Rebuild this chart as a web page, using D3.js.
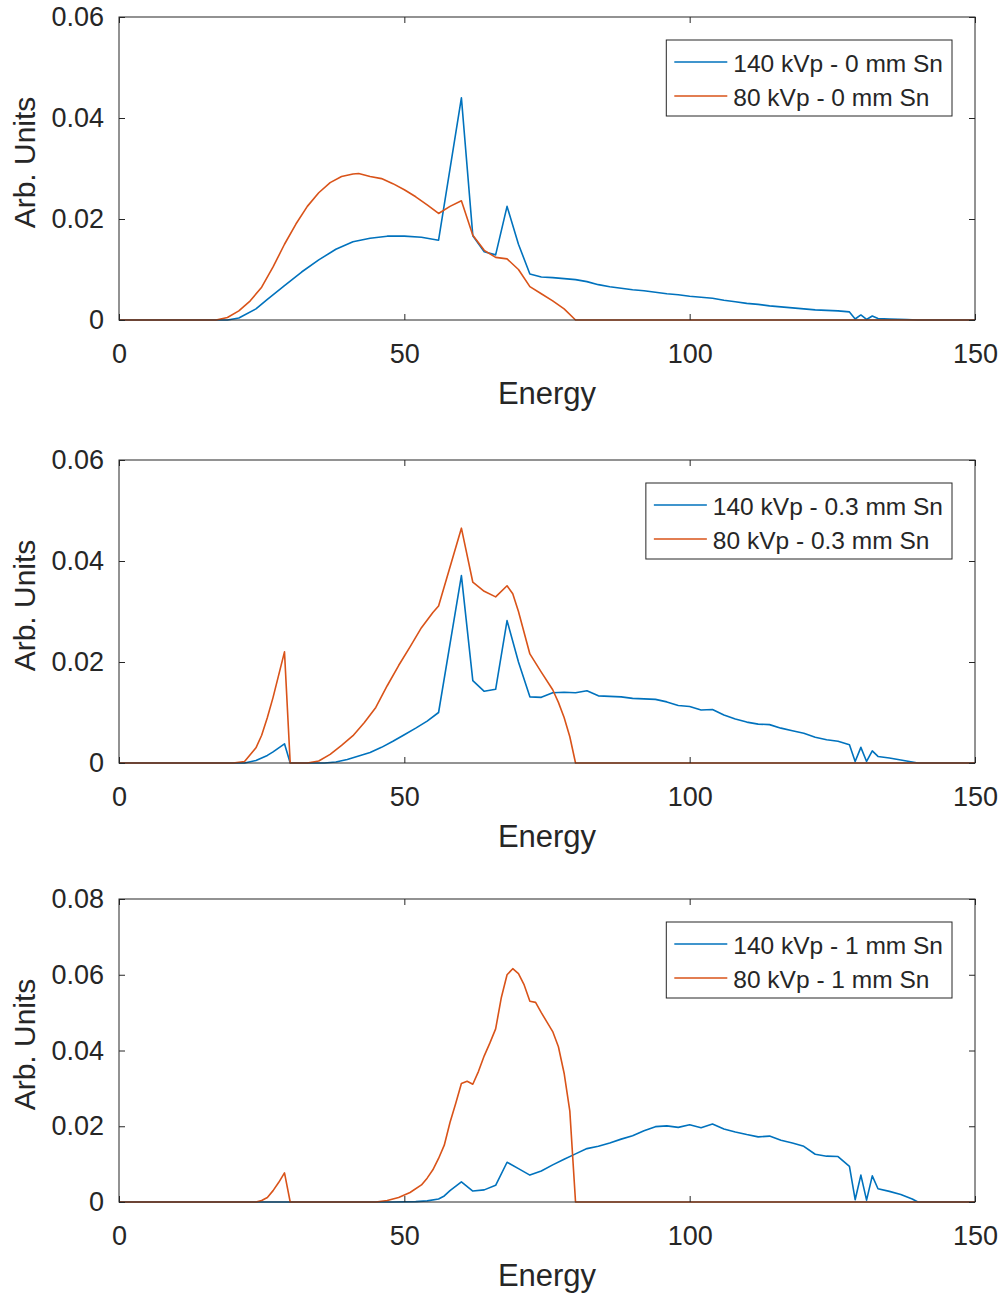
<!DOCTYPE html>
<html>
<head>
<meta charset="utf-8">
<script src="https://cdn.jsdelivr.net/npm/d3@7.9.0/dist/d3.min.js"></script>
<style>
  body { margin: 0; background: #fff; }
  text { font-family: "Liberation Sans", Arial, Helvetica, sans-serif; fill: #262626; }
</style>
</head>
<body>
<svg id="chart" width="1004" height="1295"></svg>
<script>
// energy / value pairs
const blue0 = [[0,0],[19,0],[21,0.0004],[24,0.0022],[26,0.0041],[29,0.0068],[32,0.0095],[35,0.0119],[38,0.0140],[41,0.0155],[44,0.0162],[47,0.0166],[50,0.0166],[53,0.0164],[56,0.0158],[60,0.0440],[62,0.0167],[64,0.0135],[66,0.0129],[68,0.0225],[70,0.0150],[72,0.0091],[74,0.0085],[76,0.0084],[78,0.0082],[80,0.0080],[82,0.0076],[84,0.0070],[86,0.0066],[88,0.0063],[90,0.0060],[92,0.0058],[94,0.0055],[96,0.0052],[98,0.0050],[100,0.0047],[102,0.0045],[104,0.0043],[106,0.0039],[108,0.0036],[110,0.0033],[112,0.0031],[114,0.0028],[116,0.0026],[118,0.0024],[120,0.0022],[122,0.0020],[124,0.0019],[126,0.0018],[128,0.0016],[129,0.0002],[130,0.0010],[131,0.0001],[132,0.0008],[133,0.0003],[135,0.0002],[138,0.0001],[140,0],[150,0]];
const orange0 = [[0,0],[17,0],[19,0.0005],[21,0.0018],[23,0.0038],[25,0.0065],[27,0.0105],[29,0.0150],[31,0.0190],[33,0.0225],[35,0.0252],[37,0.0272],[39,0.0284],[41,0.0289],[42,0.0290],[44,0.0284],[46,0.0280],[48,0.0270],[50,0.0258],[52,0.0244],[54,0.0228],[56,0.0211],[58,0.0225],[60,0.0236],[62,0.0168],[64,0.0138],[66,0.0124],[68,0.0121],[70,0.0100],[72,0.0066],[74,0.0052],[76,0.0038],[78,0.0022],[80,0],[150,0]];

const blue03 = [[0,0],[22,0],[24,0.0005],[26,0.0015],[27,0.0022],[29,0.0038],[30,0],[36,0],[38,0.0002],[40,0.0007],[42,0.0014],[44,0.0021],[46,0.0031],[48,0.0043],[50,0.0056],[52,0.0069],[54,0.0083],[56,0.0100],[60,0.0371],[62,0.0163],[64,0.0142],[66,0.0146],[68,0.0282],[70,0.0200],[72,0.0131],[74,0.0130],[76,0.0139],[78,0.0140],[80,0.0139],[82,0.0143],[84,0.0133],[86,0.0132],[88,0.0131],[90,0.0128],[92,0.0127],[94,0.0126],[96,0.0121],[98,0.0114],[100,0.0112],[102,0.0105],[104,0.0106],[106,0.0095],[108,0.0087],[110,0.0081],[112,0.0077],[114,0.0076],[116,0.0069],[118,0.0064],[120,0.0059],[122,0.0051],[124,0.0046],[126,0.0043],[128,0.0036],[129,0.0003],[130,0.0031],[131,0.0003],[132,0.0024],[133,0.0013],[135,0.0010],[137,0.0006],[139,0.0002],[140,0],[150,0]];
const orange03 = [[0,0],[20,0],[22,0.0003],[24,0.0030],[25,0.0055],[26,0.0090],[27,0.0130],[28,0.0175],[29,0.0220],[30,0],[33,0],[35,0.0004],[37,0.0017],[39,0.0035],[41,0.0054],[43,0.0080],[45,0.0110],[47,0.0153],[49,0.0193],[51,0.0230],[53,0.0268],[55,0.0298],[56,0.0311],[60,0.0465],[62,0.0358],[64,0.0340],[66,0.0329],[68,0.0351],[69,0.0335],[70,0.0300],[72,0.0216],[74,0.0180],[76,0.0145],[77,0.0120],[78,0.0090],[79,0.0052],[80,0],[150,0]];

const blue1 = [[0,0],[48,0],[52,0.0001],[54,0.0003],[56,0.0008],[57,0.0016],[58,0.0030],[60,0.0053],[62,0.0029],[64,0.0032],[66,0.0044],[68,0.0105],[70,0.0088],[72,0.0071],[74,0.0082],[76,0.0098],[78,0.0113],[80,0.0127],[82,0.0141],[84,0.0147],[86,0.0156],[88,0.0166],[90,0.0175],[92,0.0188],[94,0.0199],[96,0.0201],[98,0.0197],[100,0.0204],[102,0.0196],[104,0.0206],[106,0.0193],[108,0.0185],[110,0.0178],[112,0.0172],[114,0.0174],[116,0.0163],[118,0.0156],[120,0.0147],[122,0.0126],[124,0.0121],[126,0.0120],[128,0.0094],[129,0.0006],[130,0.0071],[131,0.0005],[132,0.0069],[133,0.0035],[135,0.0028],[137,0.0020],[139,0.0008],[140,0],[150,0]];
const orange1 = [[0,0],[24,0],[25,0.0004],[26,0.0012],[27,0.0030],[28,0.0052],[29,0.0077],[30,0],[45,0],[47,0.0004],[49,0.0012],[51,0.0025],[53,0.0045],[54,0.0063],[55,0.0085],[56,0.0115],[57,0.0150],[58,0.0210],[59,0.0260],[60,0.0313],[61,0.0319],[62,0.0311],[63,0.0345],[64,0.0386],[65,0.0420],[66,0.0457],[67,0.0540],[68,0.0600],[69,0.0616],[70,0.0603],[71,0.0573],[72,0.0530],[73,0.0527],[74,0.0500],[75,0.0475],[76,0.0450],[77,0.0410],[78,0.0340],[79,0.0240],[80,0],[150,0]];

const xTicks = [0, 50, 100, 150];
const legendNames = [
  ['140 kVp - 0 mm Sn', '80 kVp - 0 mm Sn'],
  ['140 kVp - 0.3 mm Sn', '80 kVp - 0.3 mm Sn'],
  ['140 kVp - 1 mm Sn', '80 kVp - 1 mm Sn']
];
const yMaxes = [0.06, 0.06, 0.08];
const yTickLists = [[0, 0.02, 0.04, 0.06], [0, 0.02, 0.04, 0.06], [0, 0.02, 0.04, 0.06, 0.08]];
const panelData = [[blue0, orange0], [blue03, orange03], [blue1, orange1]];

const colors = ['#0072BD', '#D95319'];
const axisColor = '#262626';
const left = 119, right = 975;
const tops = [17, 460, 899];
const plotH = 303;

const svg = d3.select('#chart');
const x = d3.scaleLinear().domain([0, 150]).range([left, right]);

panelData.forEach((series, p) => {
  const top = tops[p], bottom = top + plotH;
  const y = d3.scaleLinear().domain([0, yMaxes[p]]).range([bottom, top]);
  const g = svg.append('g');

  // lines
  const line = d3.line().x(d => x(d[0])).y(d => y(d[1]));
  series.forEach((s, i) => {
    g.append('path')
      .datum(s)
      .attr('d', line)
      .attr('fill', 'none')
      .attr('stroke', colors[i])
      .attr('stroke-width', 1.6)
      .attr('stroke-linejoin', 'round');
  });

  // box
  g.append('rect')
    .attr('x', left).attr('y', top)
    .attr('width', right - left).attr('height', plotH)
    .attr('fill', 'none').attr('stroke', axisColor).attr('stroke-width', 1);

  // axes with inward ticks on all sides
  const fmt = d => d === 0 ? '0' : d3.format('.2f')(d);
  const ax = (gen, tr) => g.append('g').attr('transform', tr).call(gen)
    .call(s => s.select('.domain').remove())
    .call(s => s.selectAll('line').attr('stroke', axisColor))
    .call(s => s.selectAll('text').attr('fill', axisColor).style('font-size', '27px')
      .attr('font-family', '"Liberation Sans", Arial, sans-serif'));

  ax(d3.axisBottom(x).tickValues(xTicks).tickSizeInner(-6).tickPadding(24).tickFormat(d3.format('d')), `translate(0,${bottom})`);
  ax(d3.axisTop(x).tickValues(xTicks).tickSizeInner(-6).tickFormat(''), `translate(0,${top})`);
  ax(d3.axisLeft(y).tickValues(yTickLists[p]).tickSizeInner(-6).tickPadding(15).tickFormat(fmt), `translate(${left},0)`);
  ax(d3.axisRight(y).tickValues(yTickLists[p]).tickSizeInner(-6).tickFormat(''), `translate(${right},0)`);

  // axis labels
  g.append('text')
    .attr('x', (left + right) / 2).attr('y', bottom + 84)
    .attr('text-anchor', 'middle').style('font-size', '31px')
    .text('Energy');
  g.append('text')
    .attr('transform', `translate(35,${top + plotH / 2 - 6}) rotate(-90)`)
    .attr('text-anchor', 'middle').style('font-size', '30px')
    .text('Arb. Units');

  // legend
  const lg = g.append('g');
  const box = lg.append('rect').attr('fill', '#fff').attr('stroke', axisColor).attr('stroke-width', 1);
  const texts = legendNames[p].map((name, i) => lg.append('text')
    .attr('y', top + 55 + i * 34)
    .style('font-size', '24.5px')
    .text(name));
  const tw = d3.max(texts, t => t.node().getComputedTextLength());
  const boxR = right - 23, boxL = boxR - tw - 76;
  box.attr('x', boxL).attr('y', top + 23).attr('width', boxR - boxL).attr('height', 76);
  texts.forEach((t, i) => {
    t.attr('x', boxL + 67);
    lg.append('line')
      .attr('x1', boxL + 8).attr('x2', boxL + 61)
      .attr('y1', top + 45 + i * 34).attr('y2', top + 45 + i * 34)
      .attr('stroke', colors[i]).attr('stroke-width', 1.6);
  });
});
</script>
</body>
</html>
